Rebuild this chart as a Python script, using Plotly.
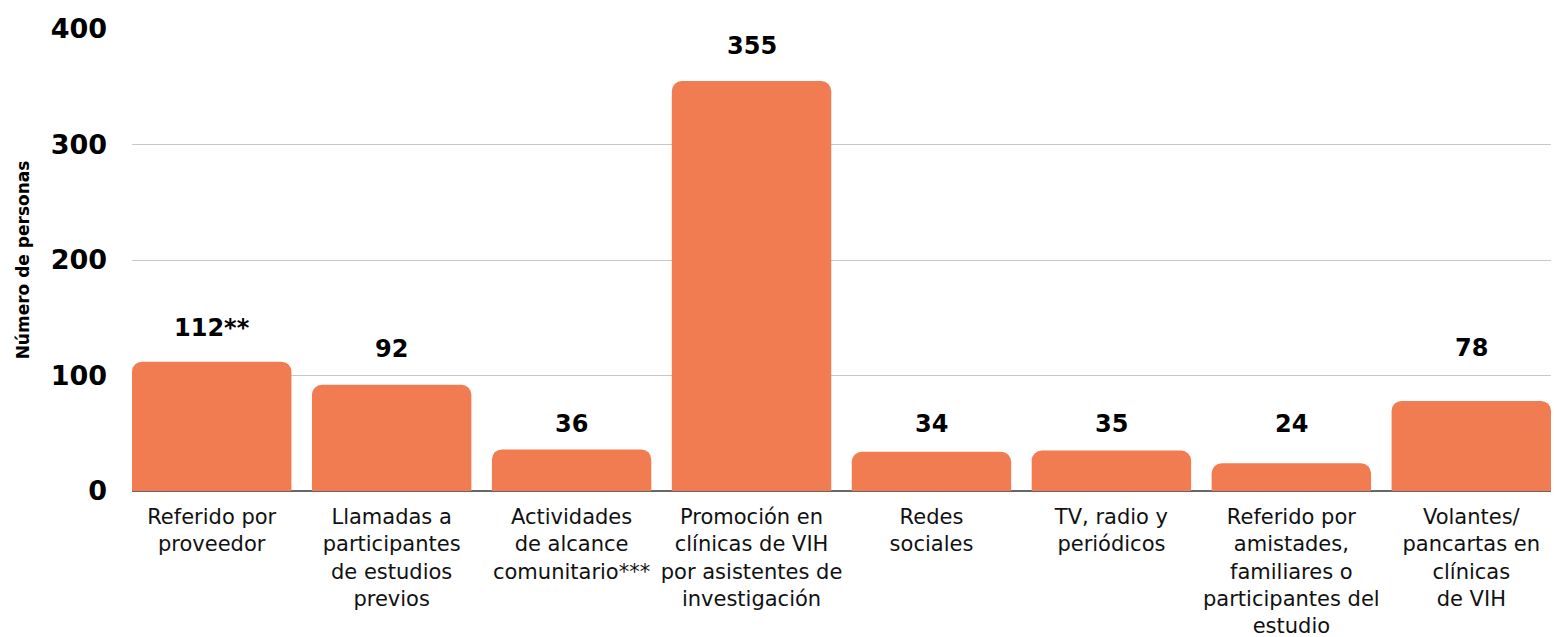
import plotly.graph_objects as go

categories = [
    "Referido por<br>proveedor",
    "Llamadas a<br>participantes<br>de estudios<br>previos",
    "Actividades<br>de alcance<br>comunitario***",
    "Promoción en<br>clínicas de VIH<br>por asistentes de<br>investigación",
    "Redes<br>sociales",
    "TV, radio y<br>periódicos",
    "Referido por<br>amistades,<br>familiares o<br>participantes del<br>estudio",
    "Volantes/<br>pancartas en<br>clínicas<br>de VIH",
]
values = [112, 92, 36, 355, 34, 35, 24, 78]
value_labels = ["112**", "92", "36", "355", "34", "35", "24", "78"]
y_ticks = [0, 100, 200, 300, 400]

# style: vertical offset (px) of each value label above its bar
label_shift = [34, 36, 25, 35, 28, 27, 39, 53]

BAR_COLOR = "#F17C51"
FONT = "DejaVu Sans"
gap = 0.114

fig = go.Figure(
    go.Bar(
        x=list(range(len(categories))),
        y=values,
        marker=dict(color=BAR_COLOR, line=dict(width=0)),
        hoverinfo="skip",
    )
)

for i, (v, t, s) in enumerate(zip(values, value_labels, label_shift)):
    fig.add_annotation(
        x=i, y=v, text=t, showarrow=False, yanchor="middle", yshift=s,
        font=dict(family=FONT, size=24, color="#000000", weight="bold"),
    )

fig.update_layout(
    width=1554, height=637,
    margin=dict(l=132, r=2.5, t=29, b=146),
    plot_bgcolor="white", paper_bgcolor="white",
    bargap=gap, barcornerradius=10,
    showlegend=False,
    font=dict(family=FONT, color="#000000"),
)
fig.update_xaxes(
    tickmode="array", tickvals=list(range(len(categories))), ticktext=categories,
    range=[-0.5 + gap / 2, len(categories) - 0.5 - gap / 2],
    showgrid=False, zeroline=False, showline=False, ticks="",
    tickfont=dict(family=FONT, size=21, color="#111111"),
    ticklabelstandoff=11, tickangle=0, automargin=False,
)
fig.update_yaxes(
    range=[0, 400], tickvals=y_ticks,
    showgrid=True, gridcolor="#C8C8C8", gridwidth=1,
    zeroline=True, zerolinecolor="#666666", zerolinewidth=2,
    showline=False, ticks="", automargin=False,
    tickfont=dict(family=FONT, size=27, color="#000000", weight="bold"),
    ticklabelstandoff=24,
    title=dict(text="Número de personas", standoff=16,
               font=dict(family=FONT, size=17, color="#000000", weight="bold")),
)

fig.write_html("out.html")
